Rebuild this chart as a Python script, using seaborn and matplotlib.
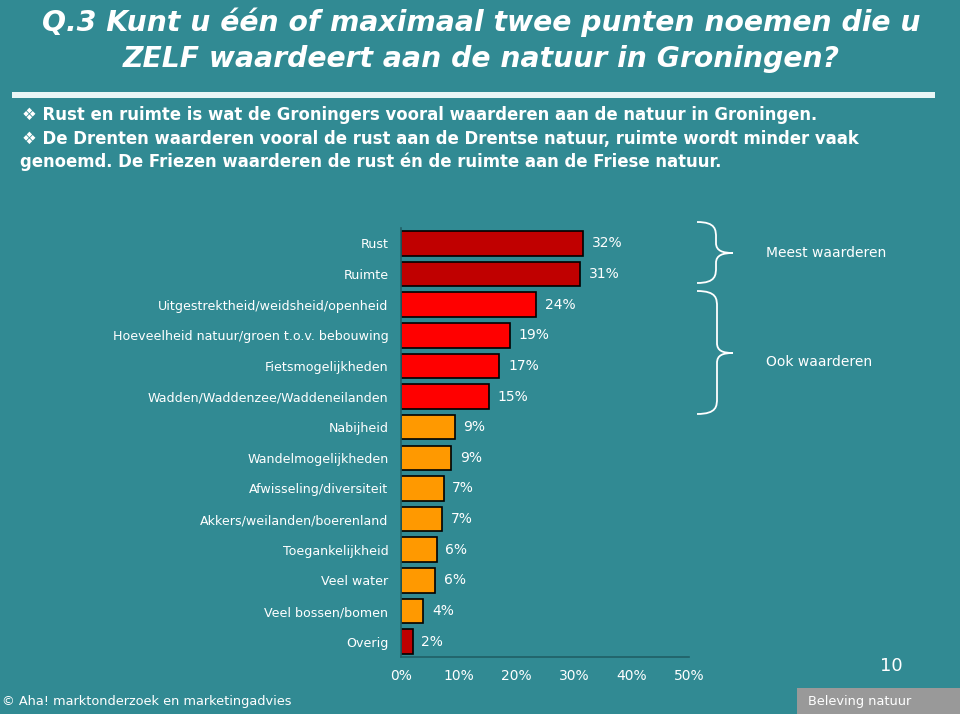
import numpy as np
import pandas as pd
import matplotlib.pyplot as plt
import seaborn as sns
from matplotlib.path import Path
from matplotlib.patches import PathPatch, Rectangle

# Datos
categorias = ['Rust', 'Ruimte', 'Uitgestrektheid/weidsheid/openheid',
              'Hoeveelheid natuur/groen t.o.v. bebouwing', 'Fietsmogelijkheden',
              'Wadden/Waddenzee/Waddeneilanden', 'Nabijheid', 'Wandelmogelijkheden',
              'Afwisseling/diversiteit', 'Akkers/weilanden/boerenland',
              'Toegankelijkheid', 'Veel water', 'Veel bossen/bomen', 'Overig']
waarden = [31.6, 31.1, 23.5, 18.9, 17.1, 15.3, 9.3, 8.7, 7.4, 7.2, 6.2, 5.9, 3.9, 2.0]
etiketten = ['32%', '31%', '24%', '19%', '17%', '15%', '9%', '9%', '7%', '7%',
             '6%', '6%', '4%', '2%']
groep = ['donker', 'donker', 'rood', 'rood', 'rood', 'rood', 'oranje', 'oranje',
         'oranje', 'oranje', 'oranje', 'oranje', 'oranje', 'donker']
x_ticks = [0, 10, 20, 30, 40, 50]

kleuren = {'donker': '#C00000', 'rood': '#FF0000', 'oranje': '#FF9900'}
bg = '#318A93'
as_kleur = '#1F5F66'

df = pd.DataFrame({'Categorie': categorias, 'Waarde': waarden, 'Groep': groep})

sns.set_style('white')
plt.rcParams['font.family'] = ['DejaVu Sans']

fig = plt.figure(figsize=(9.6, 7.14), dpi=100, facecolor=bg)
ax = fig.add_axes([401 / 960, 1 - 657 / 714, 288 / 960, 429 / 714])
ax.set_facecolor(bg)

sns.barplot(data=df, x='Waarde', y='Categorie', hue='Groep', palette=kleuren,
            dodge=False, legend=False, edgecolor='black', linewidth=1.2,
            width=0.8, saturation=1, ax=ax)

ax.set_xlim(0, 50)
ax.set_ylim(len(categorias) - 0.5, -0.5)
ax.set_xticks(x_ticks)
ax.set_xticklabels([f'{t}%' for t in x_ticks], color='white', fontsize=10)
ax.set_yticks(range(len(categorias)))
ax.set_yticklabels(categorias, color='white', fontsize=9.1)
ax.set_yticks(np.arange(-0.5, len(categorias), 1), minor=True)
ax.tick_params(axis='y', which='major', length=0, pad=9)
ax.tick_params(axis='y', which='minor', length=5, color=as_kleur, width=1)
ax.tick_params(axis='x', length=4, color=as_kleur, width=1, pad=5)
ax.set_xlabel('')
ax.set_ylabel('')
for s in ['top', 'right']:
    ax.spines[s].set_visible(False)
for s in ['left', 'bottom']:
    ax.spines[s].set_color(as_kleur)
    ax.spines[s].set_linewidth(1.2)

# Percentages naast de balken
for i, (v, lab) in enumerate(zip(waarden, etiketten)):
    ax.text(v + 1.5, i, lab, color='white', fontsize=10, va='center', ha='left')

# Titel
fig.text(0.501, 1 - 22 / 714, 'Q.3 Kunt u één of maximaal twee punten noemen die u',
         color='white', fontsize=20.3, fontweight='bold', fontstyle='italic',
         ha='center', va='center')
fig.text(0.501, 1 - 59 / 714, 'ZELF waardeert aan de natuur in Groningen?',
         color='white', fontsize=20.3, fontweight='bold', fontstyle='italic',
         ha='center', va='center')
fig.add_artist(Rectangle((12 / 960, 1 - 98 / 714), 923 / 960, 6 / 714,
                         transform=fig.transFigure, color='#EAF6F6', lw=0))

# Bullets
fig.text(22 / 960, 1 - 115 / 714,
         '\u2756 Rust en ruimte is wat de Groningers vooral waarderen aan de natuur in Groningen.',
         color='white', fontsize=11.9, fontweight='bold', va='center')
fig.text(22 / 960, 1 - 139 / 714,
         '\u2756 De Drenten waarderen vooral de rust aan de Drentse natuur, ruimte wordt minder vaak',
         color='white', fontsize=11.9, fontweight='bold', va='center')
fig.text(20 / 960, 1 - 162 / 714,
         'genoemd. De Friezen waarderen de rust én de ruimte aan de Friese natuur.',
         color='white', fontsize=11.9, fontweight='bold', va='center')


# Accolades
def accolade(x0, xm, xt, y0, ym, y1):
    verts = [(x0, y0),
             (xm, y0), (xm, y0 + 8), (xm, y0 + 16),
             (xm, ym - 10),
             (xm, ym - 2), (xt - 10, ym), (xt, ym),
             (xt - 10, ym), (xm, ym + 2), (xm, ym + 10),
             (xm, y1 - 16),
             (xm, y1 - 8), (xm, y1), (x0, y1)]
    codes = [Path.MOVETO,
             Path.CURVE4, Path.CURVE4, Path.CURVE4,
             Path.LINETO,
             Path.CURVE4, Path.CURVE4, Path.CURVE4,
             Path.CURVE4, Path.CURVE4, Path.CURVE4,
             Path.LINETO,
             Path.CURVE4, Path.CURVE4, Path.CURVE4]
    verts = [(x / 960, 1 - y / 714) for x, y in verts]
    fig.add_artist(PathPatch(Path(verts, codes), transform=fig.transFigure,
                             fill=False, edgecolor='white', lw=1.3))


accolade(697, 716, 733, 222, 253, 283)
accolade(697, 717, 733, 291, 353, 414)

fig.text(766 / 960, 1 - 253 / 714, 'Meest waarderen', color='white', fontsize=10, va='center')
fig.text(766 / 960, 1 - 362 / 714, 'Ook waarderen', color='white', fontsize=10, va='center')

# Voettekst
fig.text(2 / 960, 1 - 701 / 714, '© Aha! marktonderzoek en marketingadvies',
         color='white', fontsize=9.3, va='center')
fig.text(891 / 960, 1 - 666 / 714, '10', color='white', fontsize=13, va='center', ha='center')
fig.add_artist(Rectangle((797 / 960, 0), 163 / 960, 26 / 714,
                         transform=fig.transFigure, color='#999999', lw=0))
fig.text(808 / 960, 1 - 701 / 714, 'Beleving natuur', color='white', fontsize=9.3, va='center')

plt.savefig('out.png', dpi=100, facecolor=bg)
plt.close()
